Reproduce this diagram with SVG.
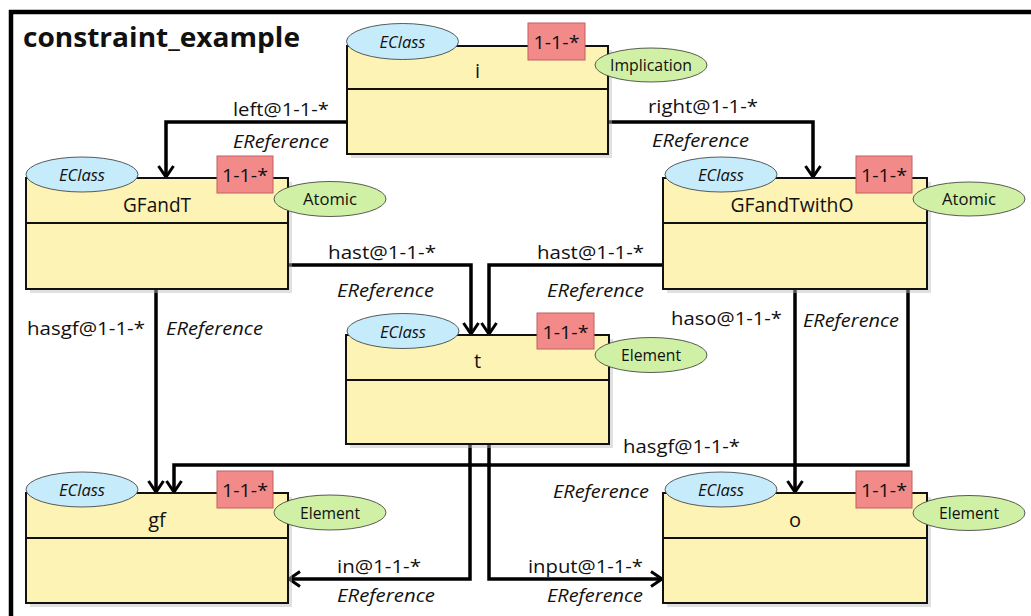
<svg xmlns="http://www.w3.org/2000/svg" width="1031" height="616" viewBox="0 0 1031 616">
<style>
text{font-family:"Open Sans","Noto Sans","DejaVu Sans",sans-serif;fill:#111}
.box{fill:#fdf3b4;stroke:#111;stroke-width:2}
.shadow{fill:#bbb;opacity:0.45}
.sep{stroke:#111;stroke-width:2}
.ecl{fill:#c6ebfb;stroke:#333;stroke-width:0.8}
.red{fill:#f28a8a;stroke:#c06060;stroke-width:1}
.grn{fill:#d0f0a5;stroke:#333;stroke-width:0.8}
.name{font-size:20px;text-anchor:middle}
.ect{font-size:17px;font-style:italic;text-anchor:middle}
.mul{font-size:19px;text-anchor:middle}
.tag{font-size:16px;text-anchor:middle}
.lbl{font-size:19px}
.it{font-size:19px;font-style:italic}
.con{fill:none;stroke:#000;stroke-width:3.5;marker-end:url(#arr)}
</style>
<defs>
<marker id="arr" markerUnits="userSpaceOnUse" markerWidth="20" markerHeight="20" viewBox="-14 -10 16 20" refX="0" refY="0" orient="auto">
<path d="M-11,-7.5 L0,0 L-11,7.5" fill="none" stroke="#000" stroke-width="3"/>
</marker>
</defs>
<rect x="0" y="0" width="1031" height="616" fill="#fff"/>
<rect x="11" y="12" width="1060" height="640" fill="none" stroke="#000" stroke-width="4.5"/>
<text x="23" y="47" font-size="26" font-weight="bold" textLength="277" lengthAdjust="spacingAndGlyphs">constraint_example</text>

<g id="connectors">
<path class="con" d="M347,122 H166 V177"/>
<path class="con" d="M608,122 H813 V177"/>
<path class="con" d="M288,265 H471 V334"/>
<path class="con" d="M663,265 H489 V334"/>
<path class="con" d="M156,289 V492"/>
<path class="con" d="M908,289 V465 H174 V492"/>
<path class="con" d="M795,289 V492"/>
<path class="con" d="M470,444 V579 H289"/>
<path class="con" d="M489,444 V579 H662"/>
<text class="lbl" x="233" y="116" textLength="96" lengthAdjust="spacingAndGlyphs">left@1-1-*</text>
<text class="it" x="233" y="148" textLength="96" lengthAdjust="spacingAndGlyphs">EReference</text>
<text class="lbl" x="648" y="113" textLength="110" lengthAdjust="spacingAndGlyphs">right@1-1-*</text>
<text class="it" x="652" y="147" textLength="97" lengthAdjust="spacingAndGlyphs">EReference</text>
<text class="lbl" x="328" y="259" textLength="108" lengthAdjust="spacingAndGlyphs">hast@1-1-*</text>
<text class="it" x="337" y="297" textLength="97" lengthAdjust="spacingAndGlyphs">EReference</text>
<text class="lbl" x="537" y="259" textLength="107" lengthAdjust="spacingAndGlyphs">hast@1-1-*</text>
<text class="it" x="547" y="297" textLength="97" lengthAdjust="spacingAndGlyphs">EReference</text>
<text class="lbl" x="27" y="335" textLength="118" lengthAdjust="spacingAndGlyphs">hasgf@1-1-*</text>
<text class="it" x="166" y="335" textLength="97" lengthAdjust="spacingAndGlyphs">EReference</text>
<text class="lbl" x="671" y="325" textLength="111" lengthAdjust="spacingAndGlyphs">haso@1-1-*</text>
<text class="it" x="803" y="327" textLength="96" lengthAdjust="spacingAndGlyphs">EReference</text>
<text class="lbl" x="623" y="453" textLength="117" lengthAdjust="spacingAndGlyphs">hasgf@1-1-*</text>
<text class="it" x="553" y="498" textLength="96" lengthAdjust="spacingAndGlyphs">EReference</text>
<text class="lbl" x="337" y="573" textLength="84" lengthAdjust="spacingAndGlyphs">in@1-1-*</text>
<text class="it" x="337" y="602" textLength="98" lengthAdjust="spacingAndGlyphs">EReference</text>
<text class="lbl" x="528" y="573" textLength="115" lengthAdjust="spacingAndGlyphs">input@1-1-*</text>
<text class="it" x="547" y="602" textLength="96" lengthAdjust="spacingAndGlyphs">EReference</text>
</g>

<g id="node-i">
<rect class="shadow" x="351" y="50" width="261" height="108"/>
<rect class="box" x="347" y="46" width="261" height="108"/>
<line class="sep" x1="347" y1="89" x2="608" y2="89"/>
<text class="name" x="477.5" y="78">i</text>
<ellipse class="ecl" cx="402.5" cy="41.5" rx="56" ry="18"/>
<text class="ect" x="402.5" y="48" textLength="46" lengthAdjust="spacingAndGlyphs">EClass</text>
<rect class="red" x="528" y="23" width="57" height="37"/>
<text class="mul" x="556.5" y="48.5" textLength="46" lengthAdjust="spacingAndGlyphs">1-1-*</text>
<ellipse class="grn" cx="651" cy="65" rx="56" ry="17"/>
<text class="tag" x="651" y="71" textLength="82" lengthAdjust="spacingAndGlyphs">Implication</text>
</g>

<g id="node-GFandT">
<rect class="shadow" x="30" y="182" width="262" height="111"/>
<rect class="box" x="26" y="178" width="262" height="111"/>
<line class="sep" x1="26" y1="223" x2="288" y2="223"/>
<text class="name" x="157" y="212" textLength="68" lengthAdjust="spacingAndGlyphs">GFandT</text>
<ellipse class="ecl" cx="82" cy="174.5" rx="56" ry="17.5"/>
<text class="ect" x="82" y="181" textLength="46" lengthAdjust="spacingAndGlyphs">EClass</text>
<rect class="red" x="217" y="156" width="56" height="37"/>
<text class="mul" x="245" y="181.5" textLength="46" lengthAdjust="spacingAndGlyphs">1-1-*</text>
<ellipse class="grn" cx="330" cy="199" rx="56" ry="17.5"/>
<text class="tag" x="330" y="205" textLength="54" lengthAdjust="spacingAndGlyphs">Atomic</text>
</g>

<g id="node-GFandTwithO">
<rect class="shadow" x="667" y="182" width="264" height="111"/>
<rect class="box" x="663" y="178" width="264" height="111"/>
<line class="sep" x1="663" y1="223" x2="927" y2="223"/>
<text class="name" x="792" y="212" textLength="123" lengthAdjust="spacingAndGlyphs">GFandTwithO</text>
<ellipse class="ecl" cx="721" cy="174.5" rx="56" ry="17.5"/>
<text class="ect" x="721" y="181" textLength="46" lengthAdjust="spacingAndGlyphs">EClass</text>
<rect class="red" x="856" y="156" width="56" height="37"/>
<text class="mul" x="884" y="181.5" textLength="46" lengthAdjust="spacingAndGlyphs">1-1-*</text>
<ellipse class="grn" cx="969" cy="199" rx="56" ry="17"/>
<text class="tag" x="969" y="205" textLength="54" lengthAdjust="spacingAndGlyphs">Atomic</text>
</g>

<g id="node-t">
<rect class="shadow" x="350" y="339" width="263" height="109"/>
<rect class="box" x="346" y="335" width="263" height="109"/>
<line class="sep" x1="346" y1="380" x2="609" y2="380"/>
<text class="name" x="477.5" y="368">t</text>
<ellipse class="ecl" cx="403" cy="331" rx="56" ry="17.5"/>
<text class="ect" x="403" y="337.5" textLength="46" lengthAdjust="spacingAndGlyphs">EClass</text>
<rect class="red" x="537" y="313" width="57" height="36"/>
<text class="mul" x="565.5" y="338.5" textLength="46" lengthAdjust="spacingAndGlyphs">1-1-*</text>
<ellipse class="grn" cx="651" cy="355" rx="56" ry="17.5"/>
<text class="tag" x="651" y="361" textLength="60" lengthAdjust="spacingAndGlyphs">Element</text>
</g>

<g id="node-gf">
<rect class="shadow" x="30" y="497" width="262" height="110"/>
<rect class="box" x="26" y="493" width="262" height="110"/>
<line class="sep" x1="26" y1="538" x2="288" y2="538"/>
<text class="name" x="157" y="527">gf</text>
<ellipse class="ecl" cx="82" cy="489.5" rx="56" ry="17.5"/>
<text class="ect" x="82" y="496" textLength="46" lengthAdjust="spacingAndGlyphs">EClass</text>
<rect class="red" x="217" y="471" width="56" height="37"/>
<text class="mul" x="245" y="496.5" textLength="46" lengthAdjust="spacingAndGlyphs">1-1-*</text>
<ellipse class="grn" cx="330" cy="512.5" rx="56" ry="17.5"/>
<text class="tag" x="330" y="518.5" textLength="60" lengthAdjust="spacingAndGlyphs">Element</text>
</g>

<g id="node-o">
<rect class="shadow" x="667" y="497" width="264" height="110"/>
<rect class="box" x="663" y="493" width="264" height="110"/>
<line class="sep" x1="663" y1="538" x2="927" y2="538"/>
<text class="name" x="795" y="527">o</text>
<ellipse class="ecl" cx="721" cy="489.5" rx="56" ry="17.5"/>
<text class="ect" x="721" y="496" textLength="46" lengthAdjust="spacingAndGlyphs">EClass</text>
<rect class="red" x="856" y="471" width="56" height="37"/>
<text class="mul" x="884" y="496.5" textLength="46" lengthAdjust="spacingAndGlyphs">1-1-*</text>
<ellipse class="grn" cx="969" cy="513" rx="56" ry="17.5"/>
<text class="tag" x="969" y="519" textLength="60" lengthAdjust="spacingAndGlyphs">Element</text>
</g>
</svg>
